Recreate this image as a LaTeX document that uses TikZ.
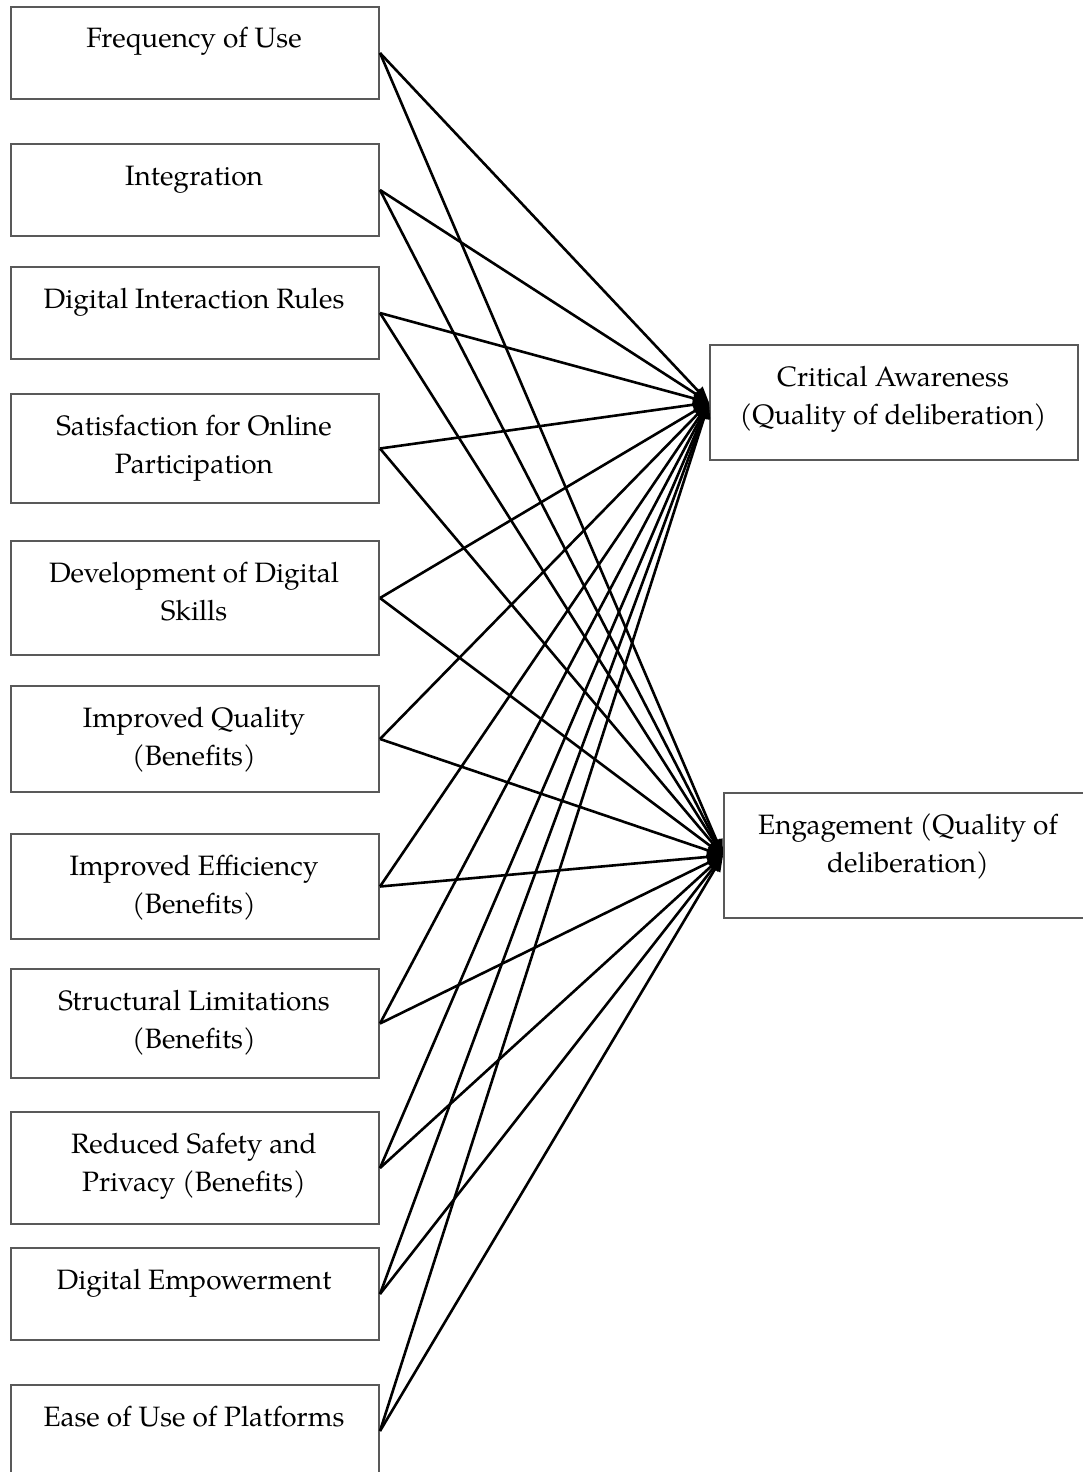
\documentclass[tikz,border=0pt]{standalone}
\usepackage{fontspec}
\setmainfont{TeX Gyre Pagella}
\usetikzlibrary{arrows.meta}
\begin{document}
\begin{tikzpicture}[x=1pt,y=-1pt,
  box/.style={draw=black!65, line width=2pt, rectangle, inner sep=0pt,
    anchor=north west, minimum width=368pt},
  lbl/.style={anchor=base, align=center, inner sep=0pt,
    font=\fontsize{28}{38}\selectfont},
  link/.style={line width=2.6pt, -{Triangle[length=16pt,width=12pt]}}]
\useasboundingbox (0,0) rectangle (1083,1472);

% factor boxes on the left
\node[box, minimum height=92pt]  (b1)  at (10,6)    {};
\node[box, minimum height=92pt]  (b2)  at (10,143)  {};
\node[box, minimum height=92pt]  (b3)  at (10,266)  {};
\node[box, minimum height=109pt] (b4)  at (10,393)  {};
\node[box, minimum height=114pt] (b5)  at (10,540)  {};
\node[box, minimum height=106pt] (b6)  at (10,685)  {};
\node[box, minimum height=105pt] (b7)  at (10,833)  {};
\node[box, minimum height=109pt] (b8)  at (10,968)  {};
\node[box, minimum height=112pt] (b9)  at (10,1111) {};
\node[box, minimum height=92pt]  (b10) at (10,1247) {};
\node[box, minimum height=92pt]  (b11) at (10,1384) {};

% labels: the base anchor sits on the last line's baseline
\node[lbl] (l1)  at (194,48)   {Frequency of Use};
\node[lbl] (l2)  at (194,185)  {Integration};
\node[lbl] (l3)  at (194,308)  {Digital Interaction Rules};
\node[lbl] (l4)  at (194,473)  {Satisfaction for Online\\Participation};
\node[lbl] (l5)  at (194,620)  {Development of Digital\\Skills};
\node[lbl] (l6)  at (194,765)  {Improved Quality\\(Benefits)};
\node[lbl] (l7)  at (194,913)  {Improved Efficiency\\(Benefits)};
\node[lbl] (l8)  at (194,1048) {Structural Limitations\\(Benefits)};
\node[lbl] (l9)  at (194,1191) {Reduced Safety and\\Privacy (Benefits)};
\node[lbl] (l10) at (194,1289) {Digital Empowerment};
\node[lbl] (l11) at (194,1426) {Ease of Use of Platforms};

% outcome boxes on the right
\node[box, minimum height=115pt] (ca) at (709,344) {};
\node[box, minimum height=125pt, minimum width=370pt] (en) at (723,792) {};
\node[lbl] (lca) at (893,424) {Critical Awareness\\(Quality of deliberation)};
\node[lbl] (len) at (908,872) {Engagement (Quality of\\deliberation)};

% every factor points to both outcomes
\foreach \s in {b1,b2,b3,b4,b5,b6,b7,b8,b9,b10,b11} {
  \draw[link] (\s.east) -- (ca.west);
  \draw[link] (\s.east) -- (en.west);
}
\end{tikzpicture}
\end{document}
